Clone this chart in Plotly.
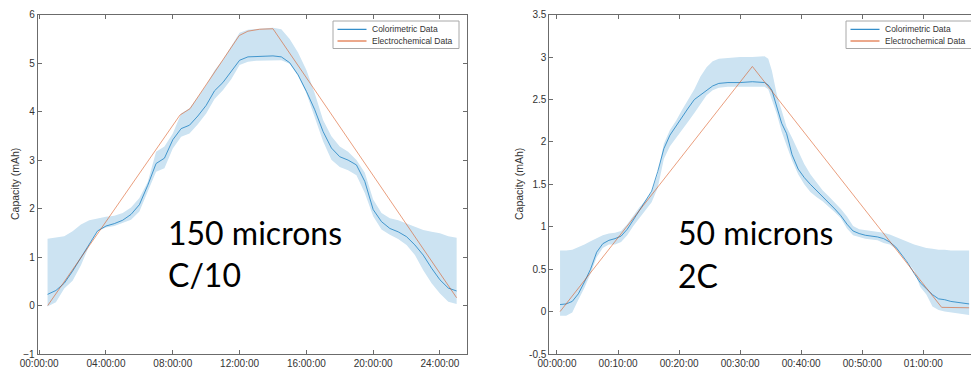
import plotly.graph_objects as go

# ---------------- 150 microns, C/10 (time in hours) ----------------
hours = [0.5, 1.0, 1.5, 2.0, 2.5, 3.0, 3.5, 4.0, 4.5, 5.0, 5.5, 6.0, 6.5, 7.0, 7.5,
         8.0, 8.5, 9.0, 9.5, 10.0, 10.5, 11.0, 11.5, 12.0, 12.5, 13.0, 13.5, 14.0,
         14.5, 15.0, 15.5, 16.0, 16.5, 17.0, 17.5, 18.0, 18.5, 19.0, 19.5, 20.0,
         20.5, 21.0, 21.5, 22.0, 22.5, 23.0, 23.5, 24.0, 24.5, 25.0]
colorimetric_150 = [0.23, 0.31, 0.46, 0.71, 0.99, 1.27, 1.54, 1.64, 1.69, 1.76, 1.88,
                    2.08, 2.48, 2.93, 3.04, 3.42, 3.65, 3.72, 3.91, 4.13, 4.43, 4.60,
                    4.83, 5.06, 5.13, 5.14, 5.15, 5.15, 5.13, 5.01, 4.76, 4.42, 4.04,
                    3.59, 3.25, 3.07, 3.00, 2.90, 2.56, 1.98, 1.73, 1.59, 1.52, 1.42,
                    1.25, 1.04, 0.77, 0.53, 0.36, 0.30]
upper_150 = [1.38, 1.40, 1.43, 1.53, 1.67, 1.76, 1.80, 1.83, 1.85, 1.91, 2.02, 2.22,
             2.55, 3.17, 3.28, 3.55, 3.96, 4.07, 4.30, 4.55, 4.85, 5.07, 5.35, 5.63,
             5.69, 5.71, 5.72, 5.73, 5.70, 5.50, 5.22, 4.86, 4.38, 3.83, 3.49, 3.28,
             3.17, 3.00, 2.74, 2.19, 1.91, 1.80, 1.76, 1.69, 1.62, 1.56, 1.52, 1.49,
             1.43, 1.40]
lower_150 = [-0.02, 0.07, 0.35, 0.51, 0.83, 1.24, 1.53, 1.61, 1.64, 1.70, 1.77, 1.94,
             2.35, 2.76, 2.83, 3.24, 3.48, 3.55, 3.74, 3.96, 4.26, 4.44, 4.67, 4.96,
             5.03, 5.05, 5.06, 5.06, 5.06, 4.99, 4.74, 4.38, 3.87, 3.39, 3.01, 2.86,
             2.79, 2.69, 2.32, 1.84, 1.57, 1.46, 1.37, 1.25, 1.04, 0.73, 0.46, 0.25,
             0.08, 0.03]
echem_hours = [0.51, 8.43, 9.03, 11.98, 12.5, 13.2, 14.0, 25.0]
electrochemical_150 = [0.0, 3.93, 4.06, 5.57, 5.66, 5.70, 5.71, 0.16]

# ---------------- 50 microns, 2C (time in minutes) ----------------
minutes = [0.5, 1.5, 2.5, 3.5, 4.5, 5.5, 6.5, 7.5, 8.5, 9.5, 10.5, 11.5, 12.5, 13.5,
           14.5, 15.5, 16.5, 17.5, 18.5, 19.5, 20.5, 21.5, 22.5, 23.5, 24.5, 25.5,
           26.5, 28, 30, 32, 34, 34.6, 35.2, 36, 36.8, 37.6, 38.5, 39.5, 40.5, 41.5,
           42.5, 43.5, 44.5, 45.5, 46.5, 47.5, 48.5, 49.5, 50.5, 51.5, 52.5, 53.5,
           54.5, 55.5, 56.5, 57.5, 58.5, 59.5, 60.5, 61.5, 62.5, 63.5, 64.5, 65.5,
           66.5, 67.5]
colorimetric_50 = [0.083, 0.09, 0.12, 0.21, 0.35, 0.50, 0.70, 0.80, 0.84, 0.86, 0.89,
                   0.97, 1.08, 1.19, 1.30, 1.42, 1.65, 1.92, 2.08, 2.19, 2.29, 2.40,
                   2.50, 2.55, 2.61, 2.66, 2.69, 2.70, 2.70, 2.71, 2.70, 2.67, 2.61,
                   2.42, 2.22, 2.10, 1.85, 1.68, 1.58, 1.50, 1.43, 1.36, 1.29, 1.21,
                   1.13, 1.03, 0.95, 0.92, 0.90, 0.89, 0.88, 0.86, 0.82, 0.76, 0.66,
                   0.57, 0.45, 0.34, 0.27, 0.20, 0.15, 0.14, 0.12, 0.11, 0.10, 0.09]
upper_50 = [0.72, 0.72, 0.73, 0.76, 0.79, 0.83, 0.87, 0.90, 0.92, 0.93, 0.95, 1.03,
            1.13, 1.23, 1.31, 1.41, 1.62, 1.98, 2.14, 2.25, 2.38, 2.50, 2.62, 2.77,
            2.88, 2.95, 2.98, 2.99, 3.00, 3.00, 3.01, 2.98, 2.84, 2.56, 2.36, 2.18,
            2.05, 1.90, 1.74, 1.62, 1.52, 1.43, 1.36, 1.29, 1.21, 1.12, 1.01, 0.97,
            0.96, 0.95, 0.94, 0.93, 0.91, 0.88, 0.85, 0.82, 0.79, 0.77, 0.75, 0.74,
            0.73, 0.73, 0.72, 0.72, 0.72, 0.72]
lower_50 = [-0.05, -0.05, -0.01, 0.14, 0.28, 0.45, 0.64, 0.75, 0.79, 0.79, 0.82, 0.90,
            1.01, 1.10, 1.20, 1.29, 1.46, 1.80, 1.95, 2.05, 2.14, 2.24, 2.34, 2.44,
            2.55, 2.61, 2.64, 2.65, 2.65, 2.65, 2.65, 2.62, 2.50, 2.33, 2.12, 1.95,
            1.78, 1.62, 1.50, 1.41, 1.35, 1.30, 1.24, 1.17, 1.10, 0.98, 0.90, 0.88,
            0.86, 0.85, 0.84, 0.81, 0.79, 0.74, 0.66, 0.58, 0.48, 0.29, 0.20, 0.06,
            0.02, 0.00, -0.01, -0.02, -0.03, -0.04]
echem_minutes = [0.5, 32.0, 63.0, 67.5]
electrochemical_50 = [0.0, 2.89, 0.05, 0.045]

# ---------------- axis ticks ----------------
ticks_hours = [0, 4, 8, 12, 16, 20, 24]
ticklabels_hours = ["00:00:00", "04:00:00", "08:00:00", "12:00:00", "16:00:00",
                    "20:00:00", "24:00:00"]
ticks_minutes = [0, 10, 20, 30, 40, 50, 60]
ticklabels_minutes = ["00:00:00", "00:10:00", "00:20:00", "00:30:00", "00:40:00",
                      "00:50:00", "01:00:00"]
ticks_cap_left = [-1, 0, 1, 2, 3, 4, 5, 6]
ticks_cap_right = [-0.5, 0, 0.5, 1, 1.5, 2, 2.5, 3, 3.5]
ticklabels_cap_right = ["-0.5", "0", "0.5", "1", "1.5", "2", "2.5", "3", "3.5"]

series_names = ["Colorimetric Data", "Electrochemical Data"]
panel_labels = [["150 microns", "C/10"], ["50 microns", "2C"]]

W, H = 971, 370
BLUE = "#0072BD"
ORANGE = "#D95319"
BAND = "#CCE3F2"
AXIS = "#6b6b6b"
TEXT = "#333333"
FONT = "Liberation Sans, Arial, sans-serif"


def px_x(x):
    return x / W


def px_y(y):
    return 1 - y / H


fig = go.Figure()


def add_panel(t, mid, up, lo, t_e, e, xa, ya):
    band_x = list(t) + list(reversed(t))
    band_y = list(up) + list(reversed(lo))
    fig.add_trace(go.Scatter(x=band_x, y=band_y, fill="toself", fillcolor=BAND,
                             line=dict(width=0), mode="lines", hoverinfo="skip",
                             showlegend=False, xaxis=xa, yaxis=ya))
    fig.add_trace(go.Scatter(x=t, y=mid, mode="lines", name=series_names[0],
                             line=dict(color=BLUE, width=0.8), opacity=0.85,
                             showlegend=False, xaxis=xa, yaxis=ya))
    fig.add_trace(go.Scatter(x=t_e, y=e, mode="lines", name=series_names[1],
                             line=dict(color=ORANGE, width=0.8), opacity=0.7,
                             showlegend=False, xaxis=xa, yaxis=ya))


add_panel(hours, colorimetric_150, upper_150, lower_150, echem_hours,
          electrochemical_150, "x", "y")
add_panel(minutes, colorimetric_50, upper_50, lower_50, echem_minutes,
          electrochemical_50, "x2", "y2")

y_dom = [px_y(354), px_y(14.7)]
axis_common = dict(showgrid=False, zeroline=False, showline=True, linecolor=AXIS,
                   linewidth=1, ticks="inside", ticklen=4, tickcolor=AXIS,
                   tickfont=dict(family=FONT, size=10, color=TEXT))

fig.update_layout(
    width=W, height=H, margin=dict(l=0, r=0, t=0, b=0, autoexpand=False),
    paper_bgcolor="white", plot_bgcolor="white", showlegend=False,
    xaxis=dict(domain=[px_x(37.7), px_x(467)], range=[-0.09, 25.62],
               tickvals=ticks_hours, ticktext=ticklabels_hours, mirror="ticks",
               anchor="y", **axis_common),
    yaxis=dict(domain=y_dom, range=[-1, 6], tickvals=ticks_cap_left,
               mirror="ticks", anchor="x", **axis_common),
    xaxis2=dict(domain=[px_x(549.3), 1.0], range=[-1.26, 67.81],
                tickvals=ticks_minutes, ticktext=ticklabels_minutes, mirror="ticks",
                anchor="y2", **axis_common),
    yaxis2=dict(domain=y_dom, range=[-0.5, 3.5], tickvals=ticks_cap_right,
                ticktext=ticklabels_cap_right, mirror=False, anchor="x2",
                **axis_common),
)

annotations = []
shapes = []

# y-axis titles
for xc in (15, 519):
    annotations.append(dict(x=px_x(xc), y=px_y(184), xref="paper", yref="paper",
                            text="Capacity (mAh)", textangle=-90, showarrow=False,
                            xanchor="center", yanchor="middle",
                            font=dict(family=FONT, size=10.5, color=TEXT)))

# panel captions
for (x0, ys), lines in zip([(165.7, (232, 274)), (676, (232, 275))], panel_labels):
    for yc, line in zip(ys, lines):
        annotations.append(dict(x=px_x(x0), y=px_y(yc), xref="paper", yref="paper",
                                text=line, showarrow=False, xanchor="left",
                                yanchor="middle",
                                font=dict(family="Lato, Open Sans, sans-serif",
                                          size=32, color="black")))

# legend boxes
for bx0, bx1 in [(333, 459), (846, 1000)]:
    shapes.append(dict(type="rect", xref="paper", yref="paper",
                       x0=px_x(bx0), x1=px_x(bx1), y0=px_y(21), y1=px_y(48.5),
                       line=dict(color="#a8a8a8", width=1), fillcolor="white",
                       layer="above"))
    for name, color, yc in zip(series_names, [BLUE, ORANGE], [29.3, 41]):
        shapes.append(dict(type="line", xref="paper", yref="paper",
                           x0=px_x(bx0 + 4.5), x1=px_x(bx0 + 33.5),
                           y0=px_y(yc), y1=px_y(yc), layer="above",
                           line=dict(color=color, width=1)))
        annotations.append(dict(x=px_x(bx0 + 37), y=px_y(yc), xref="paper",
                                yref="paper", text=name, showarrow=False,
                                xanchor="left", yanchor="middle",
                                font=dict(family=FONT, size=8.5, color=TEXT)))

fig.update_layout(annotations=annotations, shapes=shapes)
fig.write_html("out.html")
